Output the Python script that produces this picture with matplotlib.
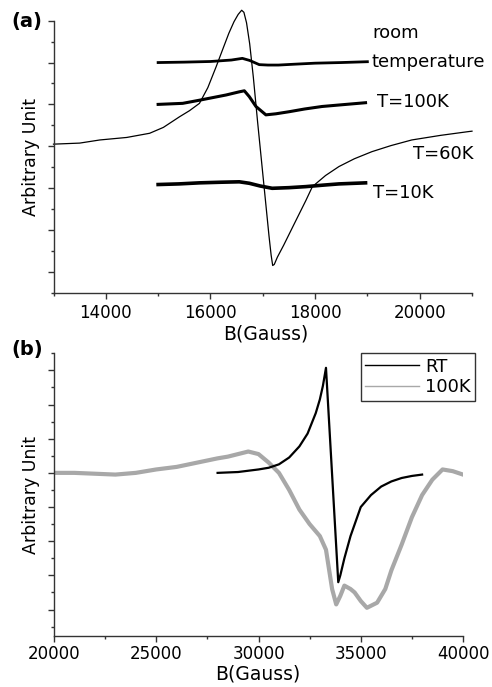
import matplotlib
matplotlib.use("Agg")
import matplotlib.pyplot as plt
from matplotlib.ticker import MultipleLocator, FixedLocator

# ---------------- Panel (a) data ----------------
# room temperature
rt_a_B = [15000, 15500, 16000, 16400, 16610, 16750, 16933, 17100, 17300, 17600, 18000, 18500, 19000]
rt_a_y = [10.0, 10.02, 10.05, 10.12, 10.2, 10.1, 9.9, 9.88, 9.88, 9.92, 9.97, 10.0, 10.04]
# T=100K
t100_a_B = [15000, 15470, 15790, 16300, 16550, 16648, 16743, 16870, 17060, 17250, 17505, 17800, 18134, 18500, 18965]
t100_a_y = [8.0, 8.05, 8.2, 8.45, 8.6, 8.65, 8.37, 7.9, 7.5, 7.55, 7.65, 7.78, 7.9, 7.98, 8.08]
# T=60K
t60_a_B = [13000, 13500, 13886, 14400, 14838, 15100, 15410, 15600, 15790, 15950, 16109, 16230,
           16352, 16450, 16530, 16597, 16640, 16690, 16750, 16820, 16900, 16980, 17060, 17120,
           17160, 17190, 17220, 17280, 17400, 17600, 17823, 17949, 18200, 18457, 18750, 19086,
           19450, 19848, 20400, 20933, 21000]
t60_a_y = [6.1, 6.15, 6.3, 6.42, 6.62, 6.9, 7.41, 7.7, 8.05, 8.8, 9.8, 10.6,
           11.4, 11.95, 12.3, 12.5, 12.4, 11.9, 10.9, 9.3, 7.2, 5.2, 3.2, 1.7,
           0.8, 0.3, 0.35, 0.7, 1.27, 2.28, 3.4, 4.07, 4.6, 5.03, 5.4, 5.74,
           6.03, 6.3, 6.52, 6.7, 6.72]
# T=10K
t10_a_B = [15000, 15400, 15790, 16200, 16552, 16743, 16950, 17180, 17500, 17823, 18150, 18457, 18965]
t10_a_y = [4.17, 4.2, 4.25, 4.28, 4.3, 4.23, 4.1, 3.99, 4.02, 4.07, 4.14, 4.2, 4.25]

# ---------------- Panel (b) data ----------------
rt_b_B = [28000, 29000, 30000, 30500, 31000, 31500, 32000, 32400, 32800, 33000, 33150, 33300,
          33900, 34000, 34200, 34500, 35000, 35500, 36000, 36500, 37000, 37500, 38000]
rt_b_y = [0.0, 0.05, 0.2, 0.3, 0.5, 0.9, 1.55, 2.3, 3.5, 4.3, 5.1, 6.15,
          -6.4, -6.0, -5.0, -3.7, -2.0, -1.3, -0.8, -0.5, -0.3, -0.18, -0.1]
k100_b_B = [20000, 21000, 22000, 23000, 24000, 25000, 26000, 27000, 28000, 28500, 29000, 29500,
            30000, 30500, 31000, 31500, 32000, 32500, 33000, 33300, 33600, 33800, 34000, 34200,
            34500, 34700, 35000, 35300, 35800, 36200, 36500, 37000, 37500, 38000, 38500, 39000,
            39500, 40000]
k100_b_y = [0.0, 0.0, -0.05, -0.1, 0.0, 0.2, 0.35, 0.6, 0.85, 0.95, 1.1, 1.25,
            1.1, 0.6, 0.0, -1.0, -2.15, -3.0, -3.7, -4.5, -6.8, -7.7, -7.2, -6.6,
            -6.8, -7.0, -7.5, -7.9, -7.6, -6.8, -5.7, -4.2, -2.6, -1.3, -0.4, 0.2,
            0.1, -0.1]

a_xticks_major = [14000, 16000, 18000, 20000]
b_xticks_major = [20000, 25000, 30000, 35000, 40000]

plt.rcParams['font.family'] = ['DejaVu Sans']

fig = plt.figure(figsize=(4.92, 6.87), dpi=100)
W, H = 492.0, 687.0

def axes_px(left, right, top, bottom):
    return fig.add_axes([left / W, 1 - bottom / H, (right - left) / W, (bottom - top) / H])

axa = axes_px(53.5, 472, 20.7, 292.7)
axb = axes_px(54, 463, 353.3, 636)

spine_col = '#333333'
for ax in (axa, axb):
    ax.spines['top'].set_visible(False)
    ax.spines['right'].set_visible(False)
    for s in ('left', 'bottom'):
        ax.spines[s].set_color(spine_col)
        ax.spines[s].set_linewidth(1.0)
    ax.tick_params(which='major', direction='out', length=4, width=1, color=spine_col,
                   labelsize=12, pad=4)
    ax.tick_params(which='minor', direction='out', length=2.5, width=1, color=spine_col)
    ax.tick_params(axis='y', which='both', labelleft=False)
    ax.set_facecolor('white')
axb.tick_params(axis='x', which='major', pad=2.5)

# ---- Panel (a)
axa.plot(t60_a_B, t60_a_y, color='black', lw=0.9, clip_on=False)
axa.plot(rt_a_B, rt_a_y, color='black', lw=2.0)
axa.plot(t100_a_B, t100_a_y, color='black', lw=2.2)
axa.plot(t10_a_B, t10_a_y, color='black', lw=2.6)
axa.set_xlim(13000, 21000)
axa.set_ylim(-1, 12)
axa.xaxis.set_major_locator(FixedLocator(a_xticks_major))
axa.xaxis.set_minor_locator(MultipleLocator(1000))
axa.yaxis.set_major_locator(MultipleLocator(2))
axa.yaxis.set_minor_locator(MultipleLocator(1))
axa.set_xlabel('B(Gauss)', fontsize=13.5)
axa.xaxis.set_label_coords((266 - 53.5) / 418.5, -(324 - 292.7) / 272.0)
axa.set_ylabel('Arbitrary Unit', fontsize=12.5)
axa.yaxis.set_label_coords(-(53.5 - 40) / 418.5, 0.5)

lab_kw = dict(fontsize=13, ha='left', va='center', transform=fig.transFigure)
fig.text(372 / W, 1 - 33 / H, 'room', **lab_kw)
fig.text(372 / W, 1 - 62 / H, 'temperature', **lab_kw)
fig.text(377 / W, 1 - 102 / H, 'T=100K', **lab_kw)
fig.text(413 / W, 1 - 154 / H, 'T=60K', **lab_kw)
fig.text(373 / W, 1 - 193 / H, 'T=10K', **lab_kw)
fig.text(11 / W, 1 - 22 / H, '(a)', fontsize=14, fontweight='bold', ha='left', va='center')

# ---- Panel (b)
axb.plot(k100_b_B, k100_b_y, color='#a8a8a8', lw=3.0, label='100K')
axb.plot(rt_b_B, rt_b_y, color='black', lw=1.6, label='RT')
axb.set_xlim(20000, 40000)
axb.set_ylim(-9.55, 7)
axb.xaxis.set_major_locator(FixedLocator(b_xticks_major))
axb.xaxis.set_minor_locator(MultipleLocator(2500))
axb.yaxis.set_major_locator(MultipleLocator(2))
axb.yaxis.set_minor_locator(MultipleLocator(1))
axb.set_xlabel('B(Gauss)', fontsize=13.5)
axb.xaxis.set_label_coords((258 - 54) / 409.0, -(665 - 636) / 282.7)
axb.set_ylabel('Arbitrary Unit', fontsize=12.5)
axb.yaxis.set_label_coords(-(54 - 40) / 409.0, 0.5)

handles, labels = axb.get_legend_handles_labels()
leg = axb.legend(handles[::-1], labels[::-1], loc='upper right',
                 bbox_to_anchor=(475 / W, 1 - 353 / H), bbox_transform=fig.transFigure,
                 fontsize=13, frameon=True, fancybox=False, framealpha=1,
                 edgecolor='#333333', handlelength=3.0, handletextpad=0.3,
                 labelspacing=0.15, borderpad=0.25, borderaxespad=0)
leg.get_frame().set_linewidth(1.0)
for ln in leg.get_lines():
    ln.set_linewidth(1.0)
fig.text(11 / W, 1 - 350 / H, '(b)', fontsize=14, fontweight='bold', ha='left', va='center')

fig.savefig('out.png', dpi=100, facecolor='white')
